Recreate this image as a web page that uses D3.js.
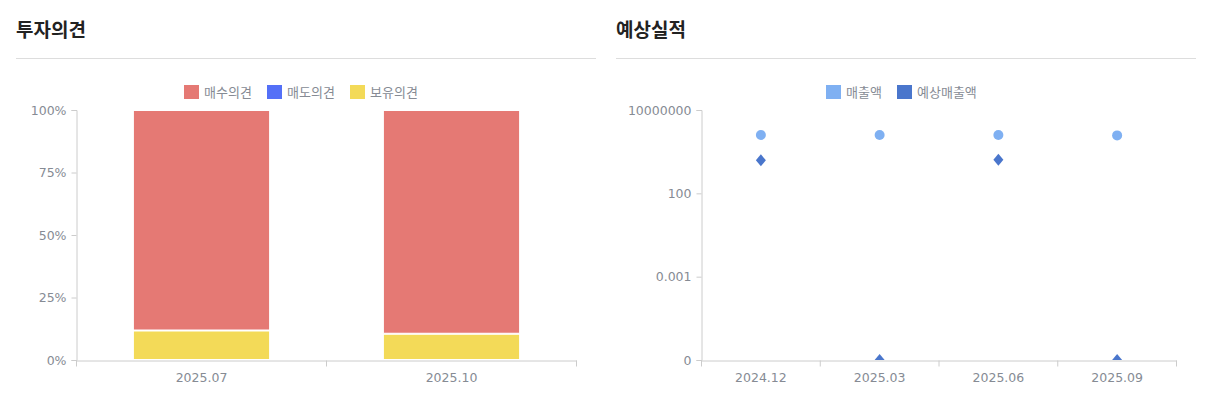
<!DOCTYPE html>
<html>
<head>
<meta charset="utf-8">
<script src="https://cdn.jsdelivr.net/npm/d3@7"></script>
<style>
  body { margin: 0; background: #fff; }
  svg { display: block; font-family: "Noto Sans CJK KR", "Noto Sans", sans-serif; }
</style>
</head>
<body>
<svg id="chart" width="1207" height="414"></svg>
<script>
// ---- data ----
var opinionDates = ["2025.07", "2025.10"];
var opinionNames = ["매수의견", "매도의견", "보유의견"];
var opinionColors = ["#e57974", "#5470f7", "#f3da58"];
var buyPct = [88.2, 89.5];
var sellPct = [0, 0];
var holdPct = [11.8, 10.5];
var pctTicks = [0, 25, 50, 75, 100];

var salesDates = ["2024.12", "2025.03", "2025.06", "2025.09"];
var salesNames = ["매출액", "예상매출액"];
var salesColors = ["#7fb0f2", "#4a76cc"];
var sales = [316000, 320000, 318000, 300000];
var salesForecast = [9500, 0, 10500, 0];
var logTicks = [1e-8, 1e-3, 100, 1e7];

var svg = d3.select("#chart");
var gray = "#868b94", axisCol = "#cccccc";

// ---- section titles + divider ----
[["투자의견", 16], ["예상실적", 616]].forEach(function (t) {
  svg.append("text")
    .attr("x", t[1]).attr("y", 37)
    .style("font-size", "19px").style("font-weight", "bold")
    .style("fill", "#222")
    .text(t[0]);
  svg.append("line")
    .attr("x1", t[1]).attr("x2", t[1] + 580)
    .attr("y1", 58.5).attr("y2", 58.5)
    .attr("stroke", "#dddddd");
});

function legend(names, colors, xs) {
  names.forEach(function (n, i) {
    svg.append("rect")
      .attr("x", xs[i]).attr("y", 85).attr("width", 15).attr("height", 14)
      .attr("fill", colors[i]);
    svg.append("text")
      .attr("x", xs[i] + 20).attr("y", 96.5)
      .style("font-size", "13px").style("fill", gray)
      .text(n);
  });
}

// *********** LEFT: STACKED BARS ***************** //
var lx = d3.scaleBand().domain(opinionDates).range([76.5, 576.5]).paddingInner(0).paddingOuter(0);
var ly = d3.scaleLinear().domain([0, 100]).range([360, 110]);

legend(opinionNames, opinionColors, [184, 267, 350]);

var stackRows = opinionDates.map(function (d, i) {
  return { date: d, hold: holdPct[i], sell: sellPct[i], buy: buyPct[i] };
});
var stack = d3.stack().keys(["hold", "sell", "buy"])(stackRows);
var keyColor = { hold: opinionColors[2], sell: opinionColors[1], buy: opinionColors[0] };
var barW = lx.bandwidth() * 0.545;

stack.forEach(function (layer) {
  svg.append("g").selectAll("rect")
    .data(layer.filter(function (d) { return d[1] - d[0] > 0; }))
    .join("rect")
    .attr("x", function (d) { return lx(d.data.date) + (lx.bandwidth() - barW) / 2; })
    .attr("width", barW)
    .attr("y", function (d) { return ly(d[1]) + 0.5; })
    .attr("height", function (d) { return ly(d[0]) - ly(d[1]) - 1; })
    .attr("fill", keyColor[layer.key])
    .attr("stroke", "#fff").attr("stroke-width", 1);
});

var lyAxis = svg.append("g").attr("transform", "translate(76.5,0)")
  .call(d3.axisLeft(ly).tickValues(pctTicks).tickSize(5).tickPadding(5)
    .tickFormat(function (d) { return d + "%"; }));
var lxAxis = svg.append("g").attr("transform", "translate(0,360.5)")
  .call(d3.axisBottom(lx).tickSize(0).tickPadding(13));
svg.append("g").attr("transform", "translate(0,360.5)")
  .selectAll("line").data([76.5, 326.5, 576.5]).join("line")
  .attr("x1", function (d) { return d; }).attr("x2", function (d) { return d; })
  .attr("y1", 0).attr("y2", 6).attr("stroke", axisCol);

// *********** RIGHT: LOG SCATTER ***************** //
var rx = d3.scaleBand().domain(salesDates).range([701.5, 1176.5]);
var ry = d3.scaleLog().domain([1e-8, 1e7]).range([360, 110]).clamp(true);

legend(salesNames, salesColors, [826, 897]);

svg.append("defs").append("clipPath").attr("id", "rclip")
  .append("rect").attr("x", 701).attr("y", 100).attr("width", 480).attr("height", 260);

var pts = svg.append("g").attr("clip-path", "url(#rclip)");
pts.selectAll("circle").data(sales).join("circle")
  .attr("cx", function (d, i) { return rx(salesDates[i]) + rx.bandwidth() / 2; })
  .attr("cy", function (d) { return ry(d); })
  .attr("r", 5)
  .attr("fill", salesColors[0]);
pts.selectAll("path").data(salesForecast).join("path")
  .attr("transform", function (d, i) {
    return "translate(" + (rx(salesDates[i]) + rx.bandwidth() / 2) + "," + ry(d > 0 ? d : 1e-8) + ")";
  })
  .attr("d", "M0,-6L5,0L0,6L-5,0Z")
  .attr("fill", salesColors[1]);

var ryAxis = svg.append("g").attr("transform", "translate(701.5,0)")
  .call(d3.axisLeft(ry).tickValues(logTicks).tickSize(5).tickPadding(5)
    .tickFormat(function (d) { return d < 1e-6 ? "0" : String(+d.toPrecision(3)); }));
var rxAxis = svg.append("g").attr("transform", "translate(0,360.5)")
  .call(d3.axisBottom(rx).tickSize(0).tickPadding(13));
svg.append("g").attr("transform", "translate(0,360.5)")
  .selectAll("line").data(d3.range(5)).join("line")
  .attr("x1", function (d) { return 701.5 + d * rx.bandwidth(); })
  .attr("x2", function (d) { return 701.5 + d * rx.bandwidth(); })
  .attr("y1", 0).attr("y2", 6).attr("stroke", axisCol);

// shared axis styling
[lyAxis, lxAxis, ryAxis, rxAxis].forEach(function (a) {
  a.select(".domain").attr("stroke", axisCol);
  a.selectAll(".tick line").attr("stroke", axisCol);
  a.selectAll("text").style("fill", gray).style("font-size", "12.5px")
    .style("font-family", "'DejaVu Sans', sans-serif");
});
</script>
</body>
</html>
